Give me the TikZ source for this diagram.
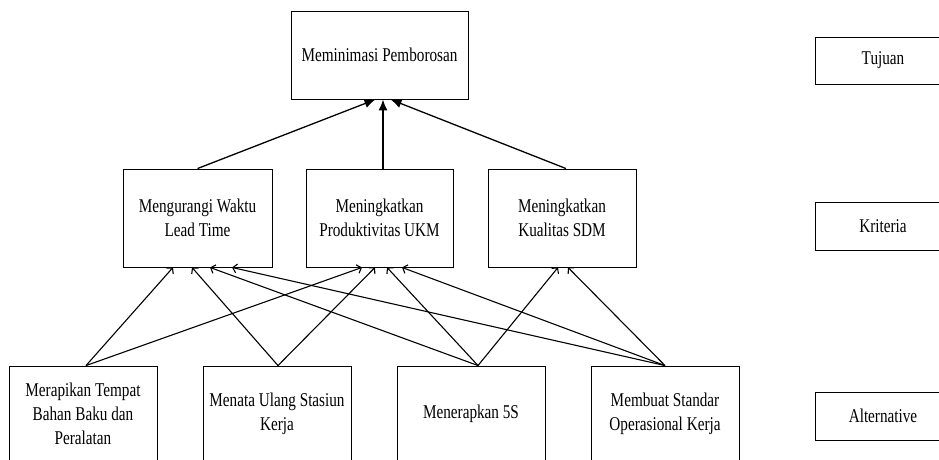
\documentclass[tikz,border=0pt]{standalone}
\usepackage{fontspec}
\setmainfont[FakeStretch=0.78]{Liberation Serif}
\usetikzlibrary{arrows.meta}
\tikzset{
  box/.style={draw, line width=0.9pt, inner sep=0pt, align=center, font=\fontsize{19.5}{24}\selectfont},
  up/.style={line width=1.3pt, -{Latex[length=11pt,width=9pt]}},
  link/.style={line width=1.1pt, -{Straight Barb[length=4pt,width=9pt]}}
}
\begin{document}
\begin{tikzpicture}[x=1pt,y=-1pt]
\clip (0,0) rectangle (939,459);
\fill[white] (0,0) rectangle (939,459);
% goal
\node[box, minimum width=177pt, minimum height=88pt] (top) at (379.5,55) {Meminimasi Pemborosan};
% criteria
\node[box, minimum width=149pt, minimum height=98pt] (c1) at (197.5,218) {Mengurangi Waktu\\Lead Time};
\node[box, minimum width=147pt, minimum height=98pt] (c2) at (379.5,218) {Meningkatkan\\Produktivitas UKM};
\node[box, minimum width=148pt, minimum height=98pt] (c3) at (562,218) {Meningkatkan\\Kualitas SDM};
% alternatives
\node[box, minimum width=148pt, minimum height=96pt] (a1) at (83,414) {Merapikan Tempat\\Bahan Baku dan\\Peralatan};
\node[box, minimum width=148pt, minimum height=96pt] (a2) at (277,414) {Menata Ulang Stasiun\\Kerja};
\node[box, minimum width=148pt, minimum height=96pt] (a3) at (471,414) {Menerapkan 5S};
\node[box, minimum width=148pt, minimum height=96pt] (a4) at (665,414) {Membuat Standar\\Operasional Kerja};
% legend
\node[box, minimum width=136pt, minimum height=47pt] (rT) at (883,60.5) {Tujuan};
\node[box, minimum width=136pt, minimum height=48pt] (rK) at (883,226) {Kriteria};
\node[box, minimum width=136pt, minimum height=48pt] (rA) at (883,416) {Alternative};
% criteria -> goal
\draw[up] (c1.north) -- ([xshift=-4pt]top.south);
\draw[up] ([xshift=3.5pt]c2.north) -- ([xshift=3.5pt]top.south);
\draw[up] ([xshift=4pt]c3.north) -- ([xshift=11pt]top.south);
% alternatives -> criteria
\draw[link] ([xshift=3pt]a1.north) -- ([xshift=-24.5pt]c1.south);
\draw[link] ([xshift=3pt]a1.north) -- ([xshift=-17.5pt]c2.south);
\draw[link] ([xshift=1pt]a2.north) -- ([xshift=-5.5pt]c1.south);
\draw[link] ([xshift=1pt]a2.north) -- ([xshift=-4.5pt]c2.south);
\draw[link] ([xshift=7pt]a3.north) -- ([xshift=12.5pt]c1.south);
\draw[link] ([xshift=7pt]a3.north) -- ([xshift=7.5pt]c2.south);
\draw[link] ([xshift=7pt]a3.north) -- ([xshift=-4pt]c3.south);
\draw[link] (a4.north) -- ([xshift=34.5pt]c1.south);
\draw[link] (a4.north) -- ([xshift=22.5pt]c2.south);
\draw[link] (a4.north) -- ([xshift=6pt]c3.south);
\end{tikzpicture}
\end{document}
